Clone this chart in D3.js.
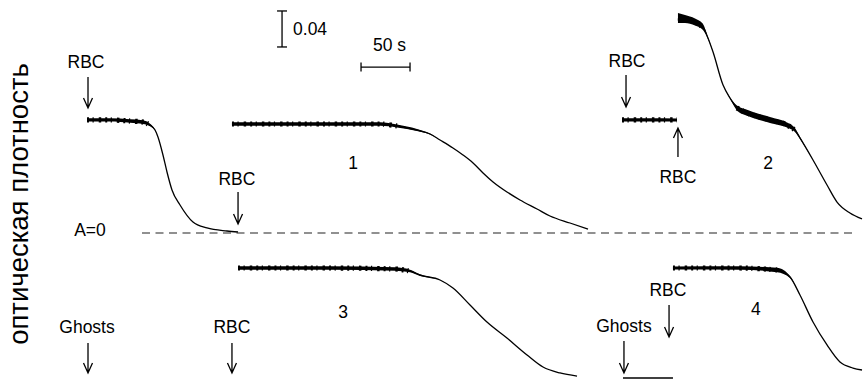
<!DOCTYPE html>
<html>
<head>
<meta charset="utf-8">
<script src="https://cdn.jsdelivr.net/npm/d3@7"></script>
<style>
  body { margin: 0; background: #fff; }
  svg { display: block; }
  text { font-family: Arial, "Liberation Sans", Helvetica, sans-serif; fill: #000; }
</style>
</head>
<body>
<svg id="chart" width="863" height="380"></svg>
<script>
// Kinetic records of optical density. Each point: [time (s), absorbance A, noise half-band dA].
// Upper records share the dashed A=0 line; lower records share the ghost baseline.

const traceInitial = [
  [88.8, 0.1256, 0.0018], [112.2, 0.1256, 0.0018], [132.7, 0.1244, 0.0019], [145.9, 0.1233, 0.0021],
  [153.1, 0.1200, 0.0015], [158.2, 0.1144, 0.0005], [161.2, 0.1067, 0], [166.3, 0.0867, 0],
  [170.4, 0.0678, 0], [175.5, 0.0478, 0], [183.7, 0.0311, 0], [196.9, 0.0122, 0],
  [211.2, 0.0056, 0], [231.6, 0.0022, 0], [242.9, 0.0011, 0]
];

const trace1 = [
  [236.7, 0.1211, 0.0019], [306.1, 0.1211, 0.0019], [387.8, 0.1211, 0.0019], [405.1, 0.1189, 0.0016],
  [425.5, 0.1144, 0.0012], [438.8, 0.1100, 0.0006], [449.0, 0.1033, 0], [462.2, 0.0944, 0],
  [472.4, 0.0867, 0], [482.7, 0.0778, 0], [492.9, 0.0667, 0], [503.1, 0.0567, 0],
  [517.3, 0.0456, 0], [530.6, 0.0367, 0], [548.0, 0.0267, 0], [561.2, 0.0189, 0],
  [581.6, 0.0111, 0], [600.0, 0.0044, 0]
];

const trace2First = [
  [634.7, 0.1256, 0.0018], [662.0, 0.1256, 0.0018], [690.8, 0.1256, 0.0017]
];

const trace2 = [
  [691.8, 0.2389, 0.0056], [699.0, 0.2378, 0.0044], [709.2, 0.2344, 0.0039], [717.3, 0.2289, 0.0033],
  [722.4, 0.2167, 0.0011], [727.6, 0.2011, 0], [737.8, 0.1644, 0], [744.9, 0.1500, 0.0006],
  [752.0, 0.1389, 0.0028], [760.2, 0.1344, 0.0033], [768.4, 0.1311, 0.0033], [785.7, 0.1256, 0.0033],
  [803.1, 0.1200, 0.0028], [811.2, 0.1144, 0.0022], [816.3, 0.1056, 0.0011], [829.6, 0.0811, 0],
  [843.9, 0.0533, 0], [854.1, 0.0344, 0], [867.3, 0.0222, 0], [879.6, 0.0156, 0]
];

const trace3 = [
  [242.9, 0.1222, 0.0019], [336.7, 0.1222, 0.0019], [403.1, 0.1211, 0.0019], [418.4, 0.1189, 0.0015],
  [428.6, 0.1144, 0.0010], [449.0, 0.1089, 0], [462.2, 0.1000, 0], [479.6, 0.0811, 0],
  [496.9, 0.0622, 0], [517.3, 0.0444, 0], [537.8, 0.0256, 0], [554.1, 0.0122, 0],
  [571.4, 0.0056, 0], [588.8, 0.0022, 0]
];

const trace4 = [
  [686.7, 0.1222, 0.0017], [755.1, 0.1222, 0.0019], [792.9, 0.1200, 0.0025], [806.1, 0.1122, 0.0010],
  [816.3, 0.0922, 0], [829.6, 0.0622, 0], [843.9, 0.0367, 0], [857.1, 0.0178, 0],
  [870.4, 0.0111, 0], [879.6, 0.0089, 0]
];

const ghostBaseline = [[635.7, 0, 0], [686.7, 0, 0]];

const zeroLineSpan = [144.9, 872.4];            // extent of the dashed A=0 line (s)
const scaleBarA = { t: 287.8, a0: 0.2067, dA: 0.04, label: "0.04" };
const scaleBarT = { t0: 368.4, dt: 50, a: 0.1844, label: "50 s" };

// Additions: [label, panel, text t, text A, arrow t, arrow tail A, arrow head A]
const additions = [
  ["RBC",    "top",    87.8, 0.1900,  89.8, 0.1733, 0.1389],
  ["RBC",    "top",   241.8, 0.0600, 242.9, 0.0456, 0.0100],
  ["RBC",    "top",   639.8, 0.1911, 638.8, 0.1756, 0.1400],
  ["RBC",    "top",   691.8, 0.0622, 691.8, 0.0844, 0.1167],
  ["Ghosts", "bottom", 88.8, 0.0567,  89.8, 0.0389, 0.0056],
  ["RBC",    "bottom",236.7, 0.0567, 236.7, 0.0389, 0.0056],
  ["RBC",    "bottom",681.6, 0.0978, 682.7, 0.0811, 0.0456],
  ["Ghosts", "bottom",636.7, 0.0578, 636.7, 0.0411, 0.0056]
];

// Record numbers: [label, panel, t, A]
const recordLabels = [
  ["1", "top", 360.2, 0.0778],
  ["2", "top", 783.7, 0.0778],
  ["3", "bottom", 350.0, 0.0733],
  ["4", "bottom", 771.4, 0.0767]
];

const yAxisTitle = "оптическая плотность";
const zeroLabel = "A=0";

// ---------- scales ----------
const svg = d3.select("#chart");
const x = d3.scaleLinear().domain([0, 880]).range([0, 862.4]);
const yTop = d3.scaleLinear().domain([0, 0.25]).range([233, 8]);
const yBottom = d3.scaleLinear().domain([0, 0.25]).range([378, 153]);
const yOf = p => (p === "top" ? yTop : yBottom);
const FS = 17.5;

// ---------- records ----------
function noisyRuns(data) {
  const runs = [];
  let cur = [];
  data.forEach(d => {
    if (d[2] >= 0.0015) cur.push(d);
    else { if (cur.length > 1) runs.push(cur); cur = []; }
  });
  if (cur.length > 1) runs.push(cur);
  return runs;
}

function drawTrace(data, y) {
  const band = d3.area()
    .x(d => x(d[0]))
    .y0(d => y(d[1] - d[2]))
    .y1(d => y(d[1] + d[2]))
    .curve(d3.curveMonotoneX);
  const line = d3.line()
    .x(d => x(d[0]))
    .y(d => y(d[1]))
    .curve(d3.curveMonotoneX);
  svg.append("path").datum(data).attr("d", band).attr("fill", "#000");
  svg.append("path").datum(data).attr("d", line)
    .attr("fill", "none").attr("stroke", "#000").attr("stroke-width", 1.3);
  // beaded texture of the noisy plateaus
  noisyRuns(data).forEach(run => {
    svg.append("path").datum(run).attr("d", line)
      .attr("fill", "none").attr("stroke", "#000").attr("stroke-width", 5.2)
      .attr("stroke-dasharray", "2 3.5 1.2 5 2.5 4");
  });
}

[traceInitial, trace1, trace2First, trace2].forEach(d => drawTrace(d, yTop));
[trace3, trace4].forEach(d => drawTrace(d, yBottom));

svg.append("path").datum(ghostBaseline)
  .attr("d", d3.line().x(d => x(d[0])).y(d => yBottom(d[1])))
  .attr("stroke", "#000").attr("stroke-width", 1.3).attr("fill", "none");

// ---------- A = 0 line ----------
svg.append("line")
  .attr("x1", x(zeroLineSpan[0])).attr("x2", x(zeroLineSpan[1]))
  .attr("y1", yTop(0)).attr("y2", yTop(0))
  .attr("stroke", "#222").attr("stroke-width", 1.1).attr("stroke-dasharray", "8 5.5");
svg.append("text")
  .attr("x", x(91.8)).attr("y", yTop(0.0033))
  .attr("text-anchor", "middle").attr("dominant-baseline", "central")
  .attr("font-size", FS).text(zeroLabel);

// ---------- scale bars ----------
{
  const bx = x(scaleBarA.t), yb = yTop(scaleBarA.a0), yt = yTop(scaleBarA.a0 + scaleBarA.dA);
  const g = svg.append("g").attr("stroke", "#000").attr("stroke-width", 1.3);
  g.append("line").attr("x1", bx).attr("x2", bx).attr("y1", yt).attr("y2", yb);
  g.append("line").attr("x1", bx - 5).attr("x2", bx + 5).attr("y1", yt).attr("y2", yt);
  g.append("line").attr("x1", bx - 5).attr("x2", bx + 5).attr("y1", yb).attr("y2", yb);
  svg.append("text").attr("x", bx + 11).attr("y", (yt + yb) / 2)
    .attr("dominant-baseline", "central").attr("font-size", FS).text(scaleBarA.label);

  const x0 = x(scaleBarT.t0), x1 = x(scaleBarT.t0 + scaleBarT.dt), by = yTop(scaleBarT.a);
  const h = svg.append("g").attr("stroke", "#000").attr("stroke-width", 1.3);
  h.append("line").attr("x1", x0).attr("x2", x1).attr("y1", by).attr("y2", by);
  h.append("line").attr("x1", x0).attr("x2", x0).attr("y1", by - 4.5).attr("y2", by + 4.5);
  h.append("line").attr("x1", x1).attr("x2", x1).attr("y1", by - 4.5).attr("y2", by + 4.5);
  svg.append("text").attr("x", (x0 + x1) / 2 + 4).attr("y", by - 22)
    .attr("text-anchor", "middle").attr("dominant-baseline", "central")
    .attr("font-size", FS).text(scaleBarT.label);
}

// ---------- additions (arrows) ----------
additions.forEach(([label, panel, tt, ta, at, a0, a1]) => {
  const y = yOf(panel);
  svg.append("text").attr("x", x(tt)).attr("y", y(ta))
    .attr("text-anchor", "middle").attr("dominant-baseline", "central")
    .attr("font-size", FS).text(label);
  const ax = x(at), ys = y(a0), ye = y(a1);
  const dir = ye > ys ? 1 : -1;
  const p = d3.path();
  p.moveTo(ax, ys); p.lineTo(ax, ye);
  p.moveTo(ax - 4.5, ye - dir * 10); p.lineTo(ax, ye); p.lineTo(ax + 4.5, ye - dir * 10);
  svg.append("path").attr("d", p.toString())
    .attr("fill", "none").attr("stroke", "#000").attr("stroke-width", 1.3);
});

// ---------- record numbers ----------
recordLabels.forEach(([label, panel, t, a]) => {
  svg.append("text").attr("x", x(t)).attr("y", yOf(panel)(a))
    .attr("text-anchor", "middle").attr("dominant-baseline", "central")
    .attr("font-size", FS).text(label);
});

// ---------- axis title ----------
svg.append("text")
  .attr("transform", "translate(18,204) rotate(-90)")
  .attr("text-anchor", "middle").attr("dominant-baseline", "central")
  .attr("font-size", 27.5).text(yAxisTitle);
</script>
</body>
</html>
